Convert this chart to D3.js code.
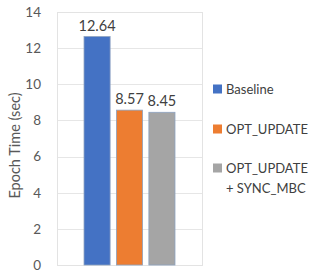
<!DOCTYPE html>
<html>
<head>
<meta charset="UTF-8">
<script src="https://d3js.org/d3.v7.min.js"></script>
<style>
  body{margin:0;background:#fff;}
  text{font-family:Lato,"Open Sans",sans-serif;}
</style>
</head>
<body>
<div id="chart"></div>
<script>
// data
var categories = ["Epoch"]
var series = ["Baseline", "OPT_UPDATE", "OPT_UPDATE + SYNC_MBC"]
var values = [12.64, 8.57, 8.45]
var labels = ["12.64", "8.57", "8.45"]
var colors = ["#4472c4", "#ed7d31", "#a5a5a5"]
var yTicks = [0, 2, 4, 6, 8, 10, 12, 14]

var width = 316, height = 277
var margin = {left: 57, top: 12, right: 114, bottom: 12}
var gw = width - margin.left - margin.right,
    gh = height - margin.top - margin.bottom

var svg = d3.select('#chart').append('svg')
  .attr('width', width).attr('height', height)
var g = svg.append('g').attr('transform', 'translate(' + margin.left + ',' + margin.top + ')')

var y = d3.scaleLinear().domain([0, 14]).range([gh, 0])
var x0 = d3.scaleBand().domain(categories).range([0, gw]).padding(0.229)
var x1 = d3.scaleBand().domain(series).range([0, x0.bandwidth()]).paddingInner(0.195)

// gridlines
g.selectAll('.grid').data(yTicks).enter().append('line')
  .attr('x1', 0).attr('x2', gw)
  .attr('y1', function(d){return Math.round(y(d)) + 0.5})
  .attr('y2', function(d){return Math.round(y(d)) + 0.5})
  .attr('stroke', '#e6e6e6').attr('stroke-width', 1)
// plot border
g.append('rect').attr('x', 0.5).attr('y', 0.5).attr('width', gw).attr('height', gh)
  .attr('fill', 'none').attr('stroke', '#e3e3e3')

// y axis labels
var yAxis = d3.axisLeft(y).tickValues(yTicks).tickSize(0).tickPadding(16)
var ya = g.append('g').call(yAxis)
ya.select('.domain').remove()
ya.selectAll('text').attr('fill', '#595959').style('font-size', '13.5px')
  .style('font-family', 'Lato, "Open Sans", sans-serif')

// bars
var grp = g.append('g').attr('transform', 'translate(' + x0(categories[0]) + ',0)')
grp.selectAll('rect').data(values).enter().append('rect')
  .attr('x', function(d, i){return x1(series[i])})
  .attr('y', function(d){return y(d)})
  .attr('width', x1.bandwidth())
  .attr('height', function(d){return gh - y(d)})
  .attr('fill', function(d, i){return colors[i]})
  .attr('stroke', '#8da2c0').attr('stroke-width', 0.8)

grp.selectAll('.lbl').data(values).enter().append('text')
  .attr('x', function(d, i){return x1(series[i]) + x1.bandwidth() / 2})
  .attr('y', function(d){return y(d) - 6})
  .attr('text-anchor', 'middle')
  .attr('fill', '#404040').style('font-size', '14.5px')
  .text(function(d, i){return labels[i]})

// axis title
svg.append('text')
  .attr('transform', 'translate(20,' + (margin.top + gh / 2 + 7) + ') rotate(-90)')
  .attr('text-anchor', 'middle')
  .attr('fill', '#595959').style('font-size', '14.5px')
  .text('Epoch Time (sec)')

// legend
var legY = [89, 129, 168]
var leg = svg.append('g')
series.forEach(function(s, i){
  leg.append('rect').attr('x', 213).attr('y', legY[i] - 4.5).attr('width', 9).attr('height', 9)
    .attr('fill', colors[i])
  var t = leg.append('text').attr('x', 226).attr('y', legY[i] + 4.5)
    .attr('fill', '#404040').style('font-size', '13px')
  var parts = s.split(' + ')
  t.append('tspan').text(parts[0])
  if (parts.length > 1) {
    t.append('tspan').attr('x', 226).attr('dy', 20).text('+ ' + parts[1])
  }
})
</script>
</body>
</html>
